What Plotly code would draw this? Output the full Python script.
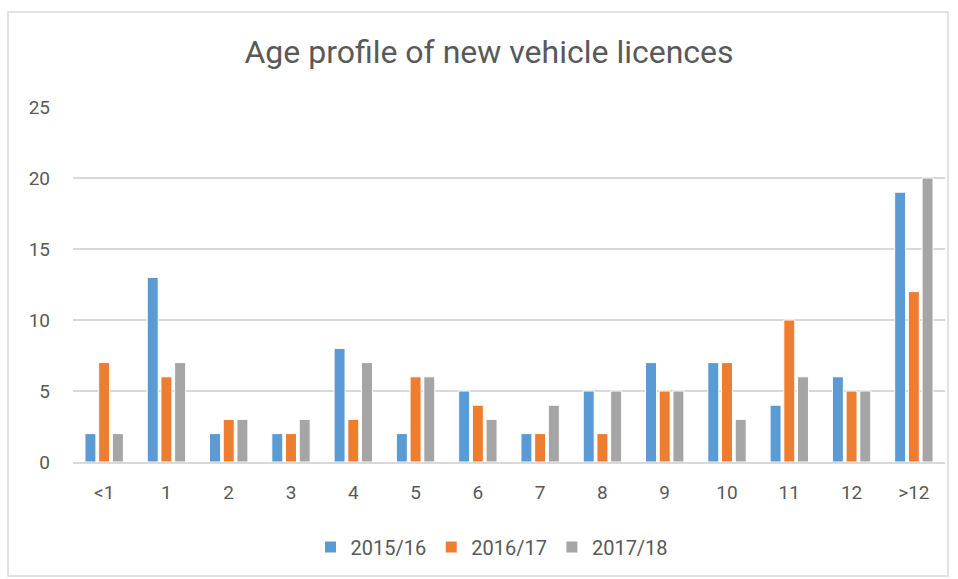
import plotly.graph_objects as go

categories = ["<1", "1", "2", "3", "4", "5", "6", "7", "8", "9", "10", "11", "12", ">12"]
series_names = ["2015/16", "2016/17", "2017/18"]
values_2015_16 = [2, 13, 2, 2, 8, 2, 5, 2, 5, 7, 7, 4, 6, 19]
values_2016_17 = [7, 6, 3, 2, 3, 6, 4, 2, 2, 5, 7, 10, 5, 12]
values_2017_18 = [2, 7, 3, 3, 7, 6, 3, 4, 5, 5, 3, 6, 5, 20]
y_ticks = [0, 5, 10, 15, 20, 25]
colors = ["#5B9BD5", "#ED7D31", "#A5A5A5"]

FONT = "Roboto, sans-serif"
TXT = "#595959"

fig = go.Figure()
for name, vals, col in zip(series_names, [values_2015_16, values_2016_17, values_2017_18], colors):
    fig.add_trace(go.Bar(x=categories, y=vals, name=name,
                         marker=dict(color=col, line=dict(color="white", width=1))))

L, R, T, B = 73, 13, 107, 117
W, H = 958, 579
pw, ph = W - L - R, H - T - B

def px_x(p):
    return (p - L) / pw

def px_y(p):
    return (H - B - p) / ph

fig.update_layout(
    width=W, height=H,
    margin=dict(l=L, r=R, t=T, b=B),
    paper_bgcolor="white", plot_bgcolor="white",
    barmode="group", bargap=0.34, bargroupgap=0.2,
    font=dict(family=FONT, color=TXT, size=19),
    title=dict(text="Age profile of new vehicle licences",
               font=dict(family=FONT, size=32, color=TXT),
               x=px_x(489), xref="paper", xanchor="center",
               y=1 - 52 / H, yref="container", yanchor="middle"),
    legend=dict(orientation="h", x=px_x(492), xanchor="center", y=px_y(547), yanchor="middle",
                font=dict(family=FONT, size=20, color=TXT), itemwidth=30, tracegroupgap=0),
    xaxis=dict(showgrid=False, showline=True, linecolor="#D9D9D9", linewidth=2,
               ticks="", ticklabelstandoff=12, tickfont=dict(size=19, color=TXT)),
    yaxis=dict(range=[0, 25], tickvals=y_ticks, showgrid=True, gridcolor="#D9D9D9", gridwidth=2,
               zeroline=False, showline=False, ticks="", ticklabelstandoff=22,
               tickfont=dict(size=19, color=TXT)),
    shapes=[dict(type="rect", xref="paper", yref="paper",
                 x0=px_x(8), x1=px_x(948), y0=px_y(576), y1=px_y(12),
                 line=dict(color="#D9D9D9", width=1.5), fillcolor="rgba(0,0,0,0)", layer="below")],
)

fig.write_html("out.html")
